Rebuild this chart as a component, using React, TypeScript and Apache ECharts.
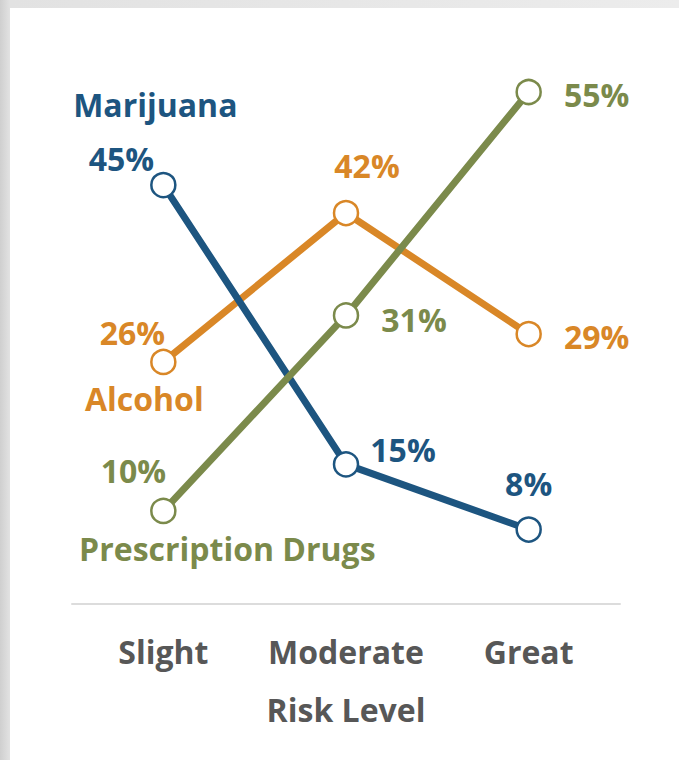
import React, { useEffect, useRef } from "react";
import * as echarts from "echarts";

const categories = ["Slight", "Moderate", "Great"];
const seriesNames = ["Alcohol", "Marijuana", "Prescription Drugs"];
const alcohol = [26, 42, 29];
const marijuana = [45, 15, 8];
const prescription = [10, 31, 55];
const axisTitle = "Risk Level";

const colors: Record<string, string> = {
  Alcohol: "#d98727",
  Marijuana: "#1d5580",
  "Prescription Drugs": "#7b8a4b",
};

// label placement (pixels, relative to each point)
const valueOffsets: Record<string, number[][]> = {
  Alcohol: [[-31, -29], [21, -48], [68, 2]],
  Marijuana: [[-42, -27], [57, -15], [0, -46]],
  "Prescription Drugs": [[-30, -40], [68, 4], [68, 2]],
};
const nameOffsets: Record<string, number[]> = {
  Alcohol: [-19, 37],
  Marijuana: [-8, -81],
  "Prescription Drugs": [64, 38],
};

const FONT = "'Open Sans', 'Noto Sans', sans-serif";
const FS = 32;

export default function App() {
  const ref = useRef<HTMLDivElement>(null);
  useEffect(() => {
    document.body.style.margin = "0";
    const chart = echarts.init(ref.current!, undefined, { renderer: "svg" });
    const valuesByName: Record<string, number[]> = {
      Alcohol: alcohol,
      Marijuana: marijuana,
      "Prescription Drugs": prescription,
    };
    const series = seriesNames.map((name) => {
      const vals = valuesByName[name];
      const c = colors[name];
      return {
        type: "line",
        name,
        data: vals.map((v, i) => ({
          value: v,
          label: { offset: valueOffsets[name][i] },
        })),
        symbol: "circle",
        symbolSize: 24,
        showAllSymbol: true,
        lineStyle: { color: c, width: 7 },
        itemStyle: { color: "#ffffff", borderColor: c, borderWidth: 2.5 },
        label: {
          show: true,
          position: "inside",
          align: "center",
          verticalAlign: "middle",
          formatter: "{c}%",
          color: c,
          fontFamily: FONT,
          fontWeight: "bold",
          fontSize: FS,
        },
        emphasis: { disabled: true },
        markPoint: {
          symbol: "circle",
          symbolSize: 0,
          silent: true,
          data: [
            {
              coord: [0, vals[0]],
              value: name,
              label: {
                show: true,
                position: "inside",
                formatter: name,
                offset: nameOffsets[name],
                color: c,
                fontFamily: FONT,
                fontWeight: "bold",
                fontSize: FS,
              },
            },
          ],
        },
      };
    });
    chart.setOption({
      animation: false,
      backgroundColor: "transparent",
      grid: { left: 72, right: 59, top: 92, bottom: 156 },
      xAxis: {
        type: "category",
        data: categories,
        boundaryGap: true,
        axisLine: { show: true, lineStyle: { color: "#dcdcdc", width: 2 } },
        axisTick: { show: false },
        axisLabel: {
          interval: 0,
          color: "#575757",
          fontFamily: FONT,
          fontWeight: "bold",
          fontSize: FS,
          margin: 31,
        },
        name: axisTitle,
        nameLocation: "middle",
        nameGap: 89,
        nameTextStyle: {
          color: "#575757",
          fontFamily: FONT,
          fontWeight: "bold",
          fontSize: FS,
          verticalAlign: "top",
        },
      },
      yAxis: {
        type: "value",
        min: 0,
        max: 55,
        show: false,
        splitLine: { show: false },
      },
      series,
    });
    return () => chart.dispose();
  }, []);
  return (
    <div
      style={{
        position: "relative",
        width: 679,
        height: 760,
        background: "linear-gradient(90deg, #cfcfcf 0px, #e2e2e2 10px, #ececec 100%)",
        overflow: "hidden",
      }}
    >
      <div
        style={{
          position: "absolute",
          left: 10,
          top: 8,
          right: 0,
          bottom: 0,
          background: "#ffffff",
        }}
      />
      <div ref={ref} style={{ position: "absolute", left: 0, top: 0, width: 679, height: 760 }} />
    </div>
  );
}
